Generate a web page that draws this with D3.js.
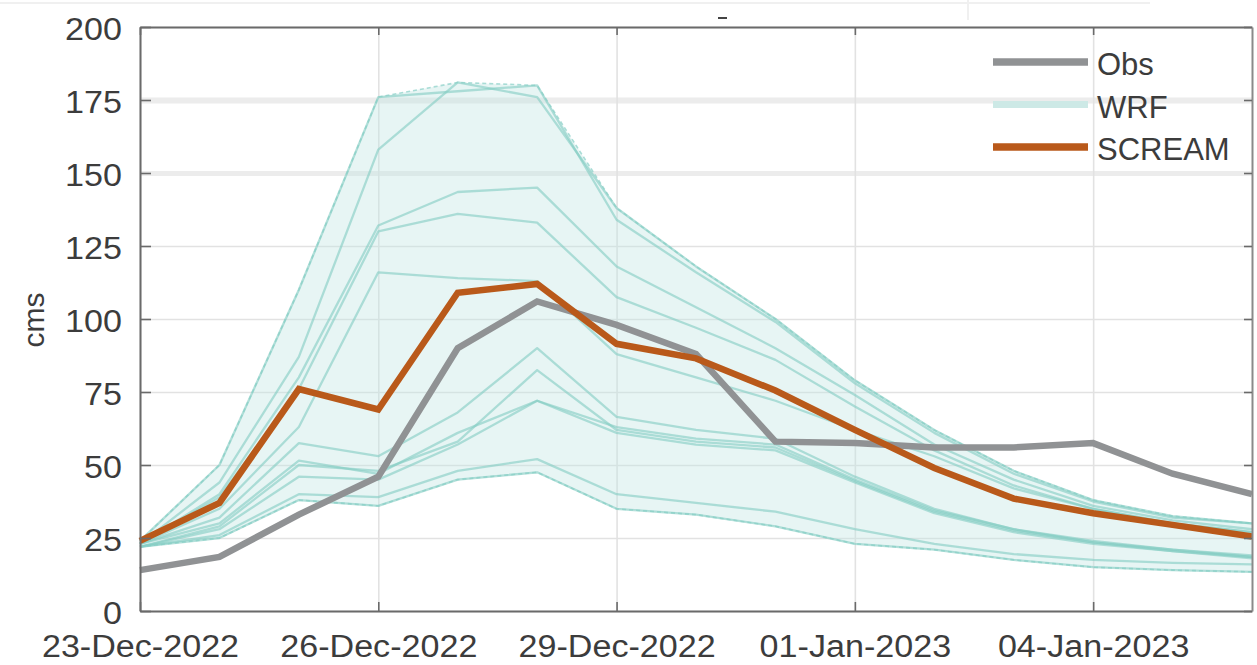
<!DOCTYPE html>
<html>
<head>
<meta charset="utf-8">
<script src="https://cdn.jsdelivr.net/npm/d3@7"></script>
<style>
  html, body { margin: 0; padding: 0; background: #fff; }
  svg { display: block; }
  text { font-family: "Liberation Sans", Arial, Helvetica, sans-serif; fill: #3c3c3c; }
</style>
</head>
<body>
<svg id="chart" width="1257" height="665"></svg>
<script>
// Daily discharge, 23 Dec 2022 – 6 Jan 2023 (cms)
const days = [
  "2022-12-23", "2022-12-24", "2022-12-25", "2022-12-26", "2022-12-27",
  "2022-12-28", "2022-12-29", "2022-12-30", "2022-12-31", "2023-01-01",
  "2023-01-02", "2023-01-03", "2023-01-04", "2023-01-05", "2023-01-06"
];

const obs    = [14, 18.5, 33, 46, 90, 106, 98, 88, 58, 57.5, 56, 56, 57.5, 47, 40];
const scream = [24, 37, 76, 69, 109, 112, 91.5, 86.5, 75.5, 62, 49, 38.5, 33.5, 29.5, 25.5];

// WRF ensemble members
const wrf01 = [24, 50, 110, 176, 178, 180, 134, 116, 99, 78, 61, 47, 37.5, 32, 30];
const wrf02 = [23, 44, 87, 158, 181, 176, 138, 118, 100, 79, 62, 48, 38, 32.5, 30];
const wrf03 = [23, 40, 80, 132, 143.5, 145, 118, 104, 90, 74, 57, 45, 36, 31, 28];
const wrf04 = [23, 39, 76, 130, 136, 133, 107.5, 97, 86, 70, 55, 43, 35, 30, 27];
const wrf05 = [23, 35, 63, 116, 114, 113, 88, 80, 72, 62, 53, 42, 35, 30, 27];
const wrf06 = [23, 32, 57.5, 53, 68, 90, 66.5, 62, 59, 46, 35, 28, 24, 21, 19];
const wrf07 = [23, 30, 51.5, 47, 61, 72, 63, 59, 57, 45, 34.5, 28, 23.5, 21, 18.5];
const wrf08 = [22, 29, 50, 48, 58, 82.5, 62, 58, 56, 44.5, 34, 27.5, 23.5, 20.5, 18.5];
const wrf09 = [22, 28, 46, 45, 57, 72, 61, 57, 55, 44, 33.5, 27, 23, 20.5, 18];
const wrf10 = [22, 26, 40, 39, 48, 52, 40, 37, 34, 28, 23, 19.5, 17.5, 16.5, 16];
const wrf11 = [22, 25, 38, 36, 45, 47.5, 35, 33, 29, 23, 21, 17.5, 15, 14, 13.4];
const wrfMembers = [wrf01, wrf02, wrf03, wrf04, wrf05, wrf06, wrf07, wrf08, wrf09, wrf10, wrf11];

const xTickDates = ["2022-12-23", "2022-12-26", "2022-12-29", "2023-01-01", "2023-01-04"];
const yTickValues = [0, 25, 50, 75, 100, 125, 150, 175, 200];
const legendNames = ["Obs", "WRF", "SCREAM"];
const yLabel = "cms";

// ---- layout ----
const svg = d3.select("#chart");
const plot = { left: 140, right: 1252, top: 27, bottom: 611 };
const parse = d3.utcParse("%Y-%m-%d");
const dates = days.map(parse);
const fmt = d3.utcFormat("%d-%b-%Y");

const x = d3.scaleUtc().domain([dates[0], dates[dates.length - 1]]).range([plot.left, plot.right]);
const y = d3.scaleLinear().domain([0, 200]).range([plot.bottom, plot.top]);

const colors = {
  obs: "#909294",
  scream: "#b9591a",
  wrfLine: "rgb(132,205,196)",
  wrfBand: "rgb(196,231,227)",
  wrfEdge: "rgb(150,212,205)",
  wrfLegend: "#cde9e6",
  grid: "#e2e2e2",
  frame: "#6a6a6a"
};

// faint page edges around the figure
svg.append("line").attr("x1", 0).attr("x2", 1150).attr("y1", 3).attr("y2", 3)
  .attr("stroke", "#f0f0f0").attr("stroke-width", 2);
svg.append("line").attr("x1", 968).attr("x2", 968).attr("y1", 0).attr("y2", 20)
  .attr("stroke", "#f0f0f0").attr("stroke-width", 2);
svg.append("line").attr("x1", 718).attr("x2", 727).attr("y1", 18).attr("y2", 18)
  .attr("stroke", "#444").attr("stroke-width", 2);

// ---- grid ----
const grid = svg.append("g");
grid.append("g")
  .attr("transform", `translate(${plot.left},0)`)
  .call(d3.axisLeft(y).tickValues(yTickValues).tickSize(-(plot.right - plot.left)).tickFormat(""))
  .call(g => g.select(".domain").remove())
  .call(g => g.selectAll(".tick line")
    .attr("stroke", d => (d === 175 || d === 150) ? "#ececec" : colors.grid)
    .attr("stroke-width", d => d === 175 ? 6 : d === 150 ? 5 : 1.6));
grid.append("g")
  .attr("transform", `translate(0,${plot.bottom})`)
  .call(d3.axisBottom(x).tickValues(xTickDates.map(parse)).tickSize(-(plot.bottom - plot.top)).tickFormat(""))
  .call(g => g.select(".domain").remove())
  .call(g => g.selectAll(".tick line").attr("stroke", colors.grid).attr("stroke-width", 1.6));

// ---- WRF envelope and members ----
const lo = dates.map((d, i) => d3.min(wrfMembers, m => m[i]));
const hi = dates.map((d, i) => d3.max(wrfMembers, m => m[i]));

svg.append("path")
  .datum(dates.map((d, i) => ({ d, lo: lo[i], hi: hi[i] })))
  .attr("fill", colors.wrfBand)
  .attr("fill-opacity", 0.4)
  .attr("d", d3.area().x(p => x(p.d)).y0(p => y(p.lo)).y1(p => y(p.hi)));

const edgeLine = d3.line().x((v, i) => x(dates[i])).y(v => y(v));
[lo, hi].forEach(edge => {
  svg.append("path").datum(edge)
    .attr("fill", "none")
    .attr("stroke", colors.wrfEdge)
    .attr("stroke-width", 1.6)
    .attr("stroke-dasharray", "4,3")
    .attr("stroke-opacity", 0.8)
    .attr("d", edgeLine);
});

const seriesLine = d3.line().x((v, i) => x(dates[i])).y(v => y(v));
svg.append("g").selectAll("path")
  .data(wrfMembers)
  .join("path")
  .attr("fill", "none")
  .attr("stroke", colors.wrfLine)
  .attr("stroke-width", 2.3)
  .attr("stroke-opacity", 0.62)
  .attr("stroke-linejoin", "round")
  .attr("d", seriesLine);

// ---- Obs and SCREAM ----
svg.append("path").datum(obs)
  .attr("fill", "none").attr("stroke", colors.obs)
  .attr("stroke-width", 6.5).attr("stroke-linejoin", "miter")
  .attr("d", seriesLine);
svg.append("path").datum(scream)
  .attr("fill", "none").attr("stroke", colors.scream)
  .attr("stroke-width", 6.5).attr("stroke-linejoin", "miter")
  .attr("d", seriesLine);

// ---- axes and frame ----
const fontSize = 31;
const axL = svg.append("g").attr("transform", `translate(${plot.left},0)`)
  .call(d3.axisLeft(y).tickValues(yTickValues).tickSizeInner(-11).tickSizeOuter(0).tickPadding(18));
const axB = svg.append("g").attr("transform", `translate(0,${plot.bottom})`)
  .call(d3.axisBottom(x).tickValues(xTickDates.map(parse)).tickFormat(fmt)
    .tickSizeInner(-9).tickSizeOuter(0).tickPadding(24));
const axT = svg.append("g").attr("transform", `translate(0,${plot.top})`)
  .call(d3.axisTop(x).tickValues(xTickDates.map(parse)).tickFormat("")
    .tickSizeInner(-8).tickSizeOuter(0));
const axR = svg.append("g").attr("transform", `translate(${plot.right},0)`)
  .call(d3.axisRight(y).tickValues(yTickValues).tickFormat("")
    .tickSizeInner(-8).tickSizeOuter(0));

[axL, axB, axT, axR].forEach(g => {
  g.select(".domain").attr("stroke", colors.frame).attr("stroke-width", 2);
  g.selectAll(".tick line").attr("stroke", colors.frame).attr("stroke-width", 1.6);
  g.selectAll("text").attr("font-size", fontSize).attr("fill", "#3c3c3c")
    .attr("font-family", "'Liberation Sans', Arial, sans-serif");
});
axR.select(".domain").attr("stroke", "#8a8a8a");
axL.selectAll("text").attr("dy", "0.4em");

// widen tick labels slightly
function widen(sel, k) {
  sel.each(function () {
    const w = this.getComputedTextLength();
    d3.select(this).attr("textLength", w * k).attr("lengthAdjust", "spacingAndGlyphs");
  });
}
widen(axL.selectAll("text"), 1.1);
widen(axB.selectAll("text"), 1.1);

// y-axis title
svg.append("text")
  .attr("transform", "translate(44,320) rotate(-90)")
  .attr("text-anchor", "middle")
  .attr("font-size", 30)
  .text(yLabel);

// ---- legend ----
const legendColors = [colors.obs, colors.wrfLegend, colors.scream];
const legend = svg.append("g");
const rows = legend.selectAll("g").data(legendNames).join("g")
  .attr("transform", (d, i) => `translate(993,${62 + i * 42.5})`);
rows.append("line")
  .attr("x1", 0).attr("x2", 95).attr("y1", 0).attr("y2", 0)
  .attr("stroke", (d, i) => legendColors[i])
  .attr("stroke-width", (d, i) => i === 1 ? 7 : 7.5);
rows.append("text")
  .attr("x", 104).attr("y", 13)
  .attr("font-size", fontSize)
  .text(d => d);
</script>
</body>
</html>
